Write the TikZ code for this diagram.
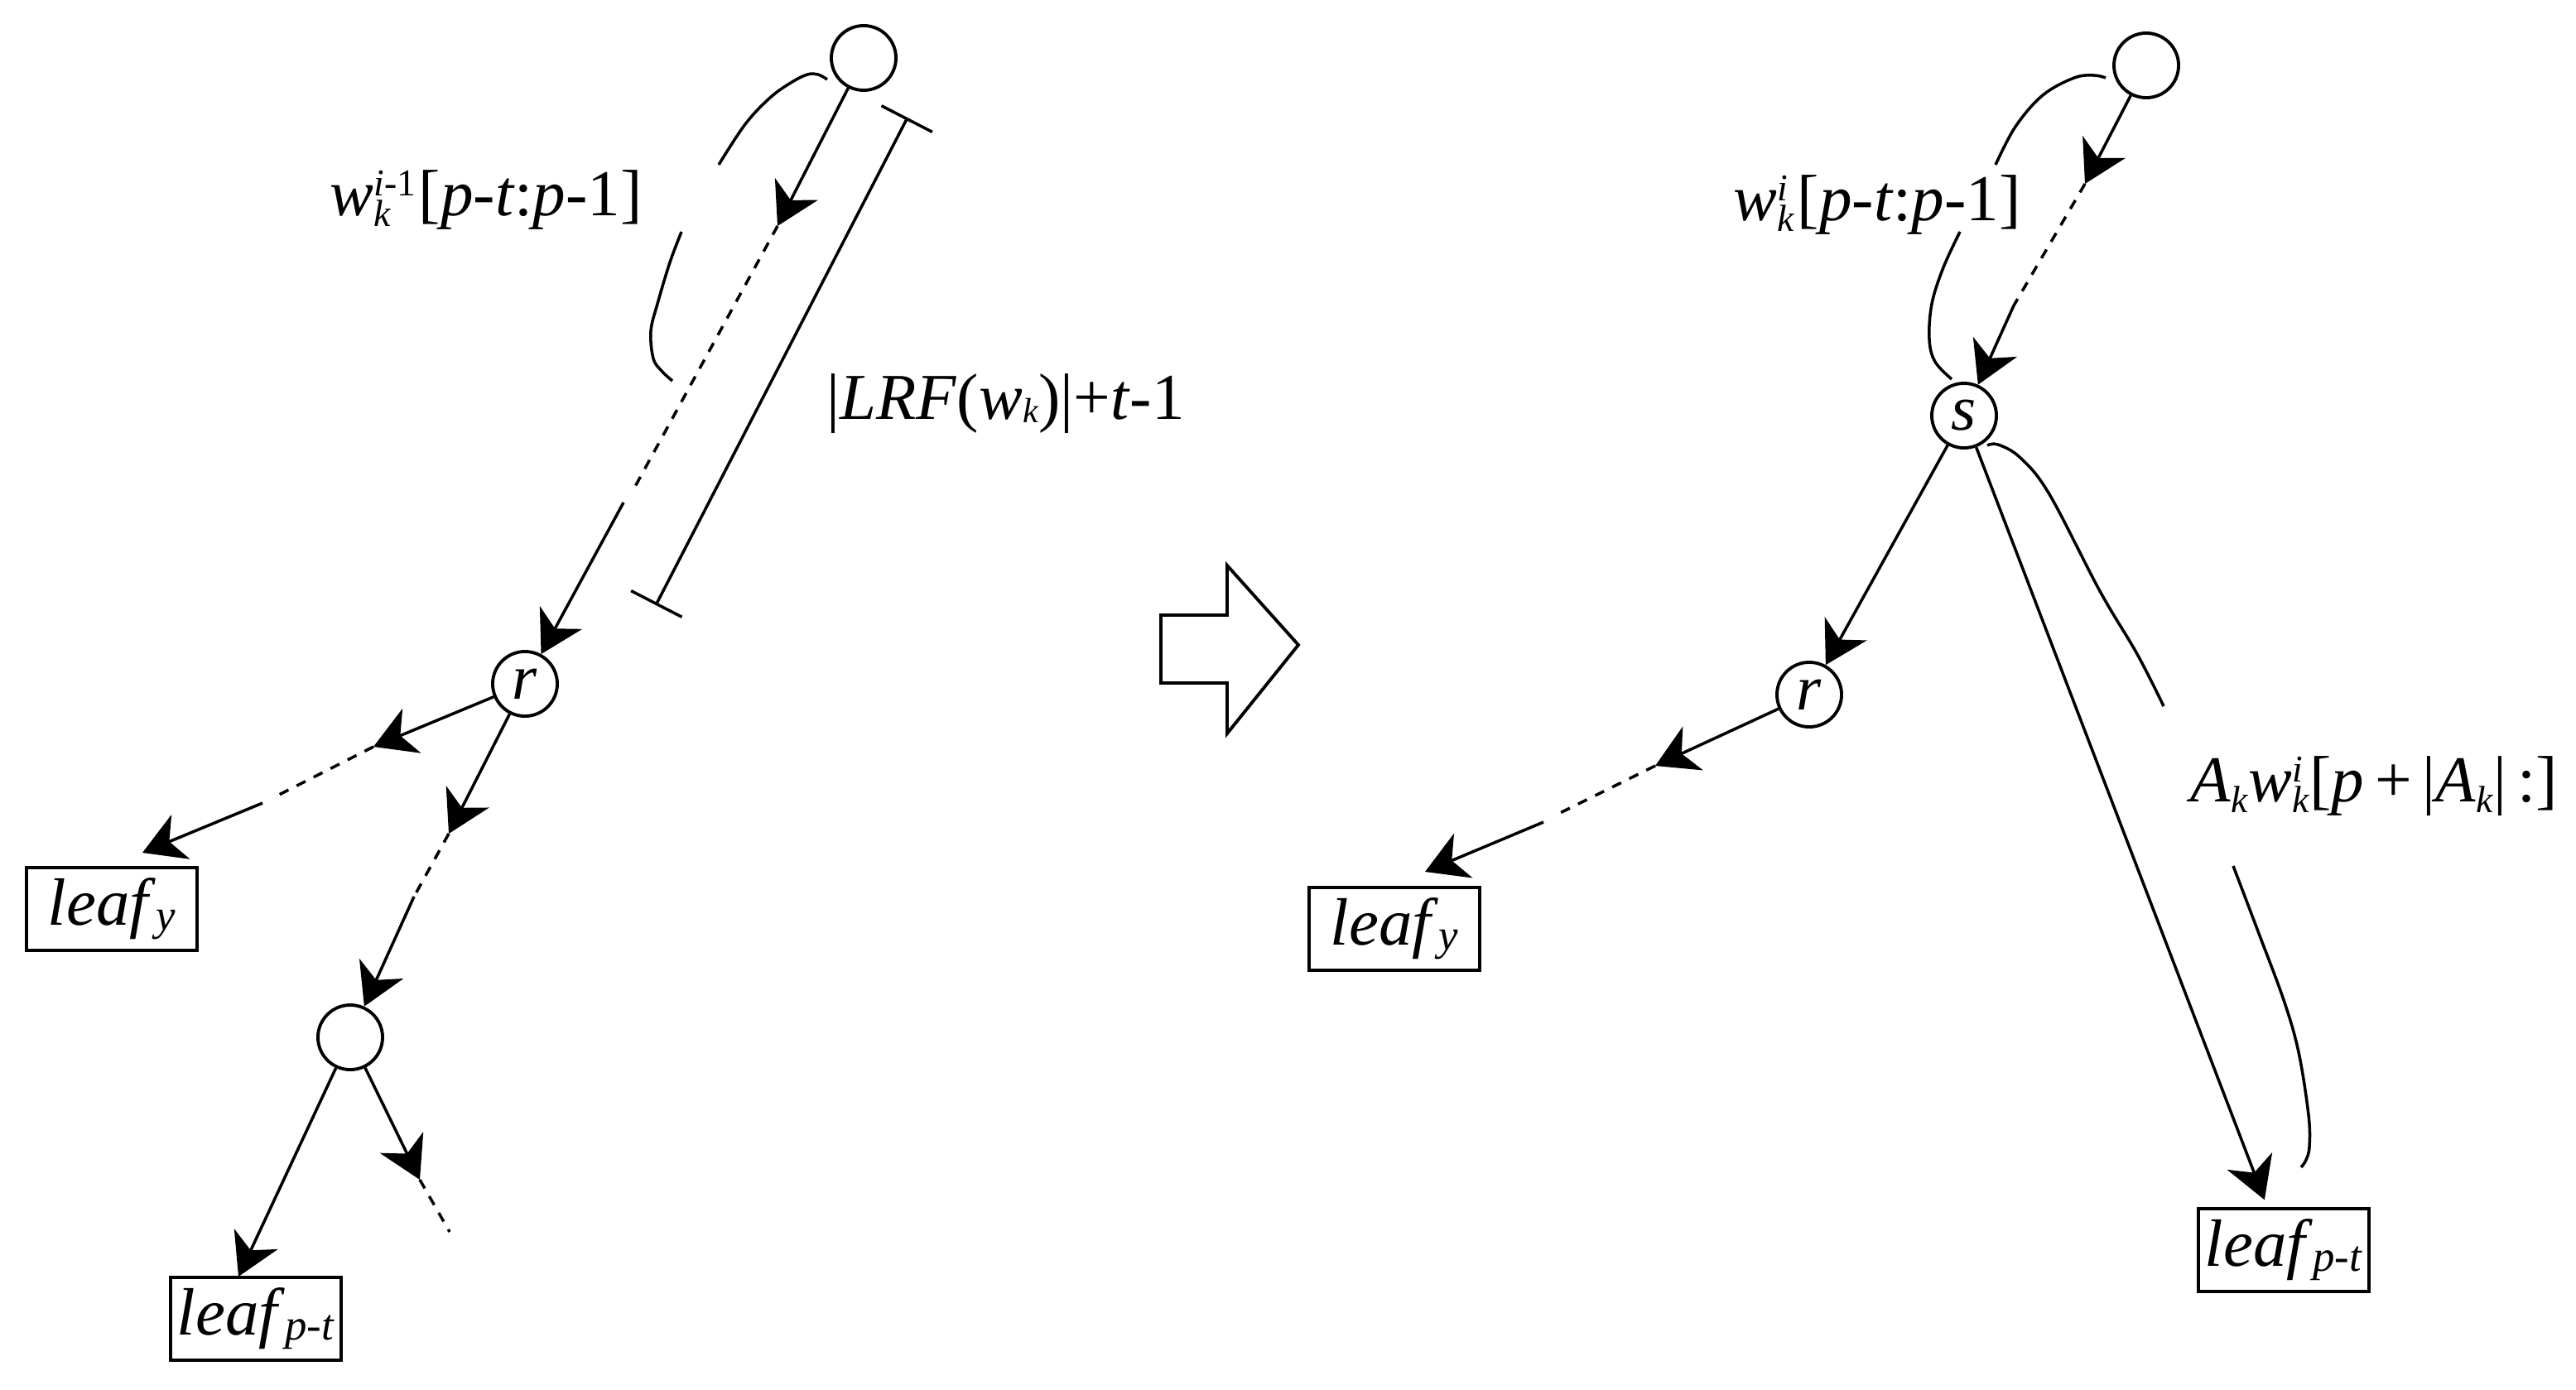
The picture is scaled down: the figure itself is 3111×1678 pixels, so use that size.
\documentclass[tikz,border=0pt]{standalone}
\usepackage{fontspec}
\setmainfont{Liberation Serif}
\usetikzlibrary{arrows.meta}
\newcommand\MySup[1]{\raisebox{0.3em}{\fontsize{13}{15}\selectfont #1}}
\newcommand\MySub[1]{\raisebox{-0.17em}{\fontsize{13}{15}\selectfont #1}}
\newcommand\SmallSub[1]{\raisebox{-0.06em}{\fontsize{12}{14}\selectfont #1}}
\newcommand\LeafSub[1]{\raisebox{-0.07em}{\fontsize{15}{17}\selectfont #1}}
\newcommand\SbSp[2]{%
  \setbox0=\hbox{\MySub{#1}}%
  \setbox2=\hbox{\MySup{#2}}%
  \ifdim\wd0>\wd2 \rlap{\copy2}\copy0 \else \rlap{\copy0}\copy2 \fi}
\tikzset{
  vtx/.style={circle, draw, line width=1.1pt, minimum size=0.78cm, inner sep=0pt, font=\fontsize{22}{26}\selectfont\itshape},
  leafbox/.style={rectangle, draw, line width=1.3pt, minimum width=2.06cm, minimum height=1.0cm, inner sep=0pt, font=\fontsize{23}{27}\selectfont},
  edge/.style={line width=1pt},
  arr/.style={edge, -{Stealth[length=0.5cm, width=0.58cm, inset=0.15cm]}},
  dsh/.style={edge, dash pattern=on 0.12cm off 0.11cm},
  brc/.style={line width=1pt},
  lbl/.style={inner sep=0pt, font=\fontsize{22.5}{26}\selectfont},
  bigarrow/.style={draw, line width=1.1pt, line join=miter},
}
\begin{document}
\begin{tikzpicture}[x=0.01cm, y=-0.01cm]
\useasboundingbox (0,0) rectangle (3111,1678);
% ---------------- left tree ----------------
\node[vtx] (T1) at (1043,70) {};
\node[vtx] (r1) at (634,826) {r};
\node[vtx] (C) at (423,1253) {};
\node[leafbox] (lefty) at (135,1098) {\textit{leaf}\LeafSub{\textit{y}}};
\node[leafbox] (lpt) at (309,1593) {\textit{leaf}\LeafSub{\textit{p}-\textit{t}}};

\coordinate (a1) at (939,273);
\coordinate (a2) at (763,595);
\coordinate (a3) at (753,607);
\draw[arr] (T1) -- (a1);
\draw[dsh] (a1) -- (a2);
\draw[arr] (a3) -- (r1);

\coordinate (b1) at (451,902);
\coordinate (b2) at (333,962);
\coordinate (b3) at (317,970);
\coordinate (b4) at (172,1030);
\draw[arr] (r1) -- (b1);
\draw[dsh] (b1) -- (b2);
\draw[arr] (b3) -- (b4);

\coordinate (c1) at (542,1007);
\coordinate (c2) at (500,1083);
\draw[arr] (r1) -- (c1);
\draw[dsh] (c1) -- (c2);
\draw[arr] (c2) -- (C);

\coordinate (lptin) at (288,1542);
\draw[arr] (C) -- (lptin);
\coordinate (d1) at (507,1425);
\coordinate (d2) at (543,1488);
\draw[arr] (C) -- (d1);
\draw[dsh] (d1) -- (d2);

% measurement bar
\coordinate (bt) at (1096,142);
\coordinate (bb) at (792,731);
\draw[edge, {Bar[width=0.69cm]}-{Bar[width=0.69cm]}] (bt) -- (bb);

% brackets
\draw[brc] plot[smooth, tension=0.6] coordinates {(999,96) (988,90) (975,90) (955,100) (930,118) (900,150) (868,199)};
\draw[brc] plot[smooth, tension=0.6] coordinates {(823,280) (809,317) (794,367) (786,400) (789,433) (799,448) (812,460)};

% labels
\node[lbl, anchor=base west] (L1) at (398,260) {\textit{w}\SbSp{\textit{k}}{\textit{i}-1}\kern1pt[\textit{p}-\textit{t}:\textit{p}-1]};
\node[lbl, anchor=base west] (LRF) at (998,506) {|\textit{LRF}(\textit{w}\SmallSub{\textit{k}})|+\textit{t}-1};

% ---------------- block arrow ----------------
\draw[bigarrow] (1402,743) -- (1482,743) -- (1482,683) -- (1568,779) -- (1482,886) -- (1482,825) -- (1402,825) -- cycle;

% ---------------- right tree ----------------
\node[vtx] (T2) at (2592,79) {};
\node[vtx] (s) at (2372,502) {s};
\node[vtx] (r2) at (2185,839) {r};
\node[leafbox] (righty) at (1684,1122) {\textit{leaf}\LeafSub{\textit{y}}};
\node[leafbox] (rpt) at (2758,1510) {\textit{leaf}\LeafSub{\textit{p}-\textit{t}}};

\coordinate (e1) at (2518,222);
\coordinate (e2) at (2432,369);
\draw[arr] (T2) -- (e1);
\draw[dsh] (e1) -- (e2);
\draw[arr] (e2) -- (s);

\draw[arr] (s) -- (r2);

\coordinate (f1) at (1999,925);
\coordinate (f2) at (1882,983);
\coordinate (f3) at (1864,993);
\coordinate (f4) at (1721,1053);
\draw[arr] (r2) -- (f1);
\draw[dsh] (f1) -- (f2);
\draw[arr] (f3) -- (f4);

\draw[arr, shorten >=0.09cm] (s) -- (rpt);

% brackets
\draw[brc] plot[smooth, tension=0.6] coordinates {(2543,94) (2529,91) (2505,94) (2467,115) (2434,153) (2410,199)};
\draw[brc] plot[smooth, tension=0.6] coordinates {(2367,280) (2347,323) (2333,367) (2330,410) (2337,437) (2357,458)};
\draw[brc] plot[smooth, tension=0.6] coordinates {(2400,538) (2413,537) (2440,553) (2475,597) (2536,714) (2581,790) (2613,853)};
\draw[brc] plot[smooth, tension=0.6] coordinates {(2697,1046) (2727,1125) (2758,1208) (2776,1271) (2788,1347) (2789,1385) (2785,1401) (2779,1410)};

% labels
\node[lbl, anchor=base west] (R1) at (2093,266) {\textit{w}\SbSp{\textit{k}}{\textit{i}}\kern1pt[\textit{p}-\textit{t}:\textit{p}-1]};
\node[lbl, anchor=base west] (R2) at (2645,968) {\textit{A}\MySub{\textit{k}}\textit{w}\SbSp{\textit{k}}{\textit{i}}[\textit{p}\,+\,|\textit{A}\MySub{\textit{k}}|\,:]};
\end{tikzpicture}
\end{document}
